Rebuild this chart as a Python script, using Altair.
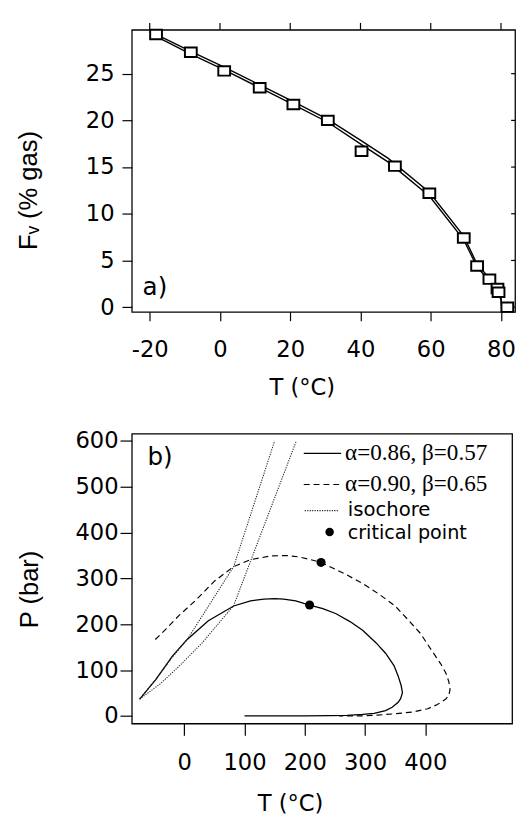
import altair as alt
import pandas as pd

SANS = "DejaVu Sans"
SANS2 = "Liberation Sans"
SERIF = "Liberation Serif"

# ---------------- panel a data ----------------
t_pts = [-18.2, -8.3, 1.2, 11.3, 20.9, 30.7, 40.3, 49.8, 59.6, 69.4, 73.2, 76.7, 79.0, 79.3, 81.8]
f_pts = [29.2, 27.3, 25.3, 23.5, 21.7, 20.0, 16.7, 15.1, 12.2, 7.4, 4.4, 3.0, 2.0, 1.6, 0.0]

t_line = [-18.2, -8.3, 1.2, 11.3, 20.9, 30.7, 40.3, 48.0, 59.6, 69.4, 73.2, 76.7, 79.0, 80.0, 80.3]
f_upper = [29.2, 27.4, 25.7, 23.8, 22.0, 20.1, 17.8, 15.9, 12.3, 7.6, 4.6, 3.1, 1.9, 1.0, -0.4]
f_lower = [29.0, 27.1, 25.4, 23.5, 21.7, 19.8, 17.4, 15.5, 11.9, 7.2, 4.3, 2.8, 1.7, 0.8, -0.4]

# ---------------- panel b data ----------------
t_solid = [-74, -47, -20, 4, 40, 82, 110, 132, 150, 165, 185, 208, 230, 252, 275, 296, 318,
           334, 348, 355, 360, 362, 359, 355, 345, 334, 315, 296, 270, 241, 200, 150, 100]
p_solid = [37, 80, 130, 166, 208, 240, 251, 255, 256, 255, 251, 242, 234, 223, 206, 187, 160,
           137, 110, 87, 66, 51, 38, 30, 19, 12, 6, 3.5, 1.5, 1, 0.5, 0.3, 0.2]

t_dash = [-48, -30, -9, 18, 50, 82, 110, 143, 170, 190, 210, 227, 268, 296, 323, 350, 372,
          392, 410, 425, 434, 439, 441, 439, 434, 420, 404, 380, 350, 320, 296, 270, 257]
p_dash = [167, 190, 219, 251, 294, 326, 341, 349, 350, 347, 341, 335, 309, 289, 266, 240, 209,
          180, 144, 115, 94, 75, 58, 45, 37, 25, 16, 9, 5, 2, 0.5, 0.2, 0.1]

t_iso1 = [-74, -47, -20, 4, 82, 150]
p_iso1 = [37, 80, 128, 165, 326, 600]
t_iso2 = [-74, -40, -9, 30, 82, 186]
p_iso2 = [37, 70, 108, 160, 241, 600]

t_crit = [208, 227]
p_crit = [242, 335]

ticks_ax = [-20, 0, 20, 40, 60, 80]
ticks_ay = [0, 5, 10, 15, 20, 25]
ticks_bx = [0, 100, 200, 300, 400]
ticks_by = [0, 100, 200, 300, 400, 500, 600]

legend_labels = ["α=0.86, β=0.57", "α=0.90, β=0.65", "isochore", "critical point"]

# ---------------- frames ----------------
n = len(t_line)
dfa_line = pd.DataFrame({
    "T": t_line + t_line,
    "F": f_upper + f_lower,
    "curve": ["upper"] * n + ["lower"] * n,
    "i": list(range(n)) * 2,
})
dfa_pts = pd.DataFrame({"T": t_pts, "F": f_pts})
dfa_xt = pd.DataFrame({"T": ticks_ax})
dfa_yt = pd.DataFrame({"F": ticks_ay})

df_solid = pd.DataFrame({"T": t_solid, "P": p_solid, "i": range(len(t_solid))})
df_dash = pd.DataFrame({"T": t_dash, "P": p_dash, "i": range(len(t_dash))})
df_iso = pd.DataFrame({
    "T": t_iso1 + t_iso2,
    "P": p_iso1 + p_iso2,
    "id": ["1"] * len(t_iso1) + ["2"] * len(t_iso2),
    "i": list(range(len(t_iso1))) + list(range(len(t_iso2))),
})
df_crit = pd.DataFrame({"T": t_crit, "P": p_crit})
one = alt.Data(values=[{}])

common_axis = dict(grid=False, domain=False, tickColor="black", tickWidth=1.2,
                   labelColor="black", titleColor="black", labelFont=SANS,
                   labelFontSize=23, titleFontWeight="normal",
                   labelExpr="datum.value + ''")
x_title = dict(titleFont=SANS, titleFontSize=23)
y_title = dict(titleFont=SANS2, titleFontSize=26)

# ---------------- panel a ----------------
WA = 390
xa_scale = alt.Scale(domain=[-25.1, 84], nice=False, zero=False)
ya_scale = alt.Scale(domain=[-0.5, 29.7], nice=False, zero=False)

xa = alt.X("T:Q", scale=xa_scale, axis=alt.Axis(
    values=ticks_ax, tickSize=9, labelPadding=36,
    labelBaseline="alphabetic", title="T (°C)", titleX=173, titleY=84,
    titleBaseline="alphabetic", titleAlign="center", **x_title, **common_axis))
ya = alt.Y("F:Q", scale=ya_scale, axis=alt.Axis(
    values=ticks_ay, tickSize=10, labelPadding=8,
    title="Fᵥ (% gas)", titleAngle=270, titleX=-105, titleY=163,
    titleBaseline="middle", titleAlign="center", **y_title, **common_axis))

lines_a = alt.Chart(dfa_line).mark_line(color="black", strokeWidth=1.4).encode(
    x=xa, y=ya, detail="curve:N", order="i:Q")

# ticks on the top (outward) and right (inward) edges of the frame
top_ticks = alt.Chart(dfa_xt).mark_rule(color="black", strokeWidth=1.2).encode(
    x=alt.X("T:Q", scale=xa_scale), y=alt.value(0), y2=alt.value(-7))
right_ticks = alt.Chart(dfa_yt).mark_rule(color="black", strokeWidth=1.2).encode(
    y=alt.Y("F:Q", scale=ya_scale), x=alt.value(WA - 4), x2=alt.value(WA))

pts_a = alt.Chart(dfa_pts).mark_point(
    shape="M -1 -0.8 L 1 -0.8 L 1 0.8 L -1 0.8 Z", size=144, filled=True,
    fill="white", stroke="black", strokeWidth=2, opacity=1).encode(
    x=alt.X("T:Q", scale=xa_scale), y=alt.Y("F:Q", scale=ya_scale))

label_a = alt.Chart(one).mark_text(
    text="a)", font=SANS, fontSize=25, align="left", baseline="alphabetic",
    color="black").encode(x=alt.value(11), y=alt.value(270))

panel_a = alt.layer(lines_a, top_ticks, right_ticks, pts_a, label_a).properties(
    width=WA, height=287)

# ---------------- panel b ----------------
xb_scale = alt.Scale(domain=[-87, 544], nice=False, zero=False)
yb_scale = alt.Scale(domain=[-16.4, 615.7], nice=False, zero=False)

xb = alt.X("T:Q", scale=xb_scale, axis=alt.Axis(
    values=ticks_bx, tickSize=12, labelPadding=35,
    labelBaseline="alphabetic", title="T (°C)", titleX=161, titleY=88,
    titleBaseline="alphabetic", titleAlign="center", **x_title, **common_axis))
yb = alt.Y("P:Q", scale=yb_scale, axis=alt.Axis(
    values=ticks_by, tickSize=12, labelPadding=2,
    title="P (bar)", titleAngle=270, titleX=-104, titleY=158,
    titleBaseline="middle", titleAlign="center", **y_title, **common_axis))

solid = alt.Chart(df_solid).mark_line(color="black", strokeWidth=1.3).encode(
    x=xb, y=yb, order="i:Q")
dashed = alt.Chart(df_dash).mark_line(color="black", strokeWidth=1.2,
                                      strokeDash=[6, 4]).encode(
    x=xb, y=yb, order="i:Q")
iso = alt.Chart(df_iso).mark_line(color="#222222", strokeWidth=1.1,
                                  strokeDash=[1.2, 1.3]).encode(
    x=xb, y=yb, detail="id:N", order="i:Q")
crit = alt.Chart(df_crit).mark_point(shape="circle", size=85, filled=True,
                                     color="black", opacity=1).encode(x=xb, y=yb)

leg_solid = alt.Chart(one).mark_rule(color="black", strokeWidth=1.3).encode(
    x=alt.value(175), x2=alt.value(213), y=alt.value(20))
leg_dash = alt.Chart(one).mark_rule(color="black", strokeWidth=1.2,
                                    strokeDash=[6, 4]).encode(
    x=alt.value(175), x2=alt.value(213), y=alt.value(51.7))
leg_iso = alt.Chart(one).mark_rule(color="#222222", strokeWidth=1.1,
                                   strokeDash=[1.2, 1.3]).encode(
    x=alt.value(176), x2=alt.value(211), y=alt.value(78.3))
leg_dot = alt.Chart(one).mark_point(shape="circle", size=75, filled=True,
                                    color="black", opacity=1).encode(
    x=alt.value(201.3), y=alt.value(100))

leg_t1 = alt.Chart(one).mark_text(text=legend_labels[0], font=SERIF, fontSize=23.5,
                                  align="left", baseline="alphabetic", color="black").encode(
    x=alt.value(217), y=alt.value(27))
leg_t2 = alt.Chart(one).mark_text(text=legend_labels[1], font=SERIF, fontSize=23.5,
                                  align="left", baseline="alphabetic", color="black").encode(
    x=alt.value(217), y=alt.value(58.5))
leg_t3 = alt.Chart(one).mark_text(text=legend_labels[2], font=SANS, fontSize=20,
                                  align="left", baseline="alphabetic", color="black").encode(
    x=alt.value(219.7), y=alt.value(83.5))
leg_t4 = alt.Chart(one).mark_text(text=legend_labels[3], font=SANS, fontSize=19.5,
                                  align="left", baseline="alphabetic", color="black").encode(
    x=alt.value(219.7), y=alt.value(107))

label_b = alt.Chart(one).mark_text(
    text="b)", font=SANS, fontSize=25, align="left", baseline="alphabetic",
    color="black").encode(x=alt.value(16), y=alt.value(32))

panel_b = alt.layer(solid, dashed, iso, crit, leg_solid, leg_dash, leg_iso, leg_dot,
                    leg_t1, leg_t2, leg_t3, leg_t4, label_b).properties(
    width=387, height=295)

chart = alt.vconcat(panel_a, panel_b, spacing=29).properties(
    padding={"left": 7, "top": 6, "right": 0, "bottom": 0},
    background="white",
).configure_view(stroke="black", strokeWidth=1.3)

chart.save("out.html", embed_options={"renderer": "svg", "actions": False})
